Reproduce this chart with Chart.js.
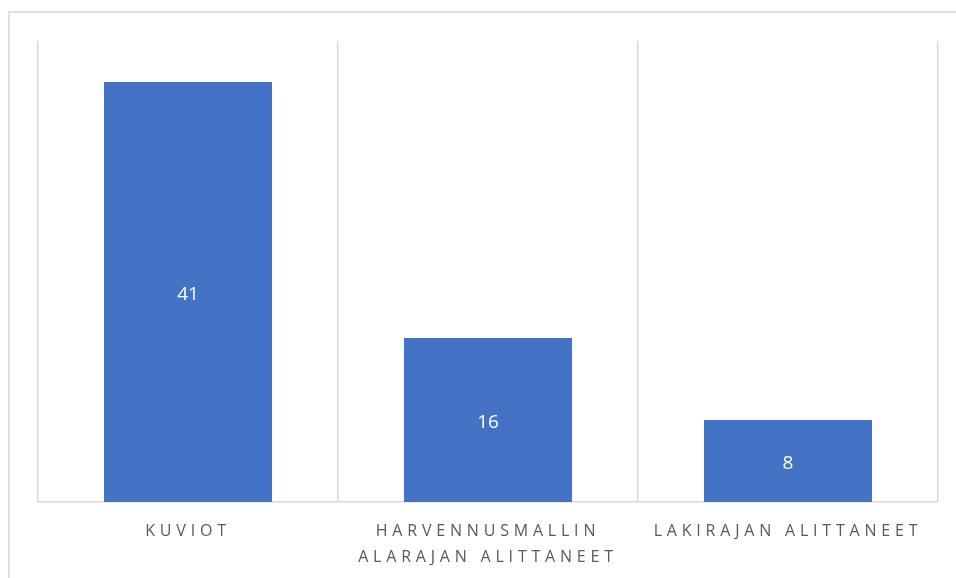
<!DOCTYPE html>
<html>
<head>
<meta charset="utf-8">
<script src="https://cdn.jsdelivr.net/npm/chart.js@4/dist/chart.umd.min.js"></script>
<style>
  html, body { margin: 0; padding: 0; background: #fff; }
  #wrap { position: relative; width: 956px; height: 578px; overflow: hidden; }
  #frame { position: absolute; left: 8px; top: 11px; width: 1000px; height: 700px; border: 2px solid #dedede; box-sizing: border-box; }
  canvas { position: absolute; left: 0; top: 0; }
</style>
</head>
<body>
<div id="wrap">
  <div id="frame"></div>
  <canvas id="chart" width="956" height="578"></canvas>
</div>
<script>
// Data
const categories = ["KUVIOT", ["HARVENNUSMALLIN", "ALARAJAN ALITTANEET"], "LAKIRAJAN ALITTANEET"]
const values = [41, 16, 8]

// letter-spaced axis labels, plain numbers in bars
const spacingPlugin = {
  id: "spacing",
  beforeDraw(chart) {
    chart.ctx.letterSpacing = "4.8px"
  },
  beforeDatasetsDraw(chart) {
    chart.ctx.letterSpacing = "0px"
  },
}

const barLabels = {
  id: "barLabels",
  afterDatasetsDraw(chart) {
    const ctx = chart.ctx
    const meta = chart.getDatasetMeta(0)
    ctx.save()
    ctx.letterSpacing = "0px"
    ctx.fillStyle = "#ffffff"
    ctx.font = "19px 'Open Sans', sans-serif"
    ctx.textAlign = "center"
    ctx.textBaseline = "middle"
    meta.data.forEach((bar, i) => {
      const { x, y, base } = bar.getProps(["x", "y", "base"], true)
      ctx.fillText(String(values[i]), x, (y + base) / 2 + 3)
    })
    ctx.restore()
  },
}

const chart = new Chart(document.getElementById("chart"), {
  type: "bar",
  data: {
    labels: categories,
    datasets: [
      {
        data: values,
        backgroundColor: "#4472C4",
        barPercentage: 0.56,
        categoryPercentage: 1,
      },
    ],
  },
  options: {
    responsive: false,
    animation: false,
    layout: { padding: { left: 38, right: 18, top: 41, bottom: 0 } },
    plugins: {
      legend: { display: false },
      tooltip: { enabled: false },
    },
    scales: {
      x: {
        afterFit: (scale) => { scale.height = 76 },
        grid: {
          offset: true,
          color: "#d9d9d9",
          lineWidth: 1.5,
          drawTicks: false,
        },
        border: { color: "#d9d9d9", width: 1.5 },
        ticks: {
          color: "#595959",
          padding: 17,
          maxRotation: 0,
          autoSkip: false,
          font: { family: "'Open Sans', sans-serif", size: 16, lineHeight: 1.6 },
        },
      },
      y: {
        display: false,
        min: 0,
        max: 45,
      },
    },
  },
  plugins: [spacingPlugin, barLabels],
})
</script>
</body>
</html>
